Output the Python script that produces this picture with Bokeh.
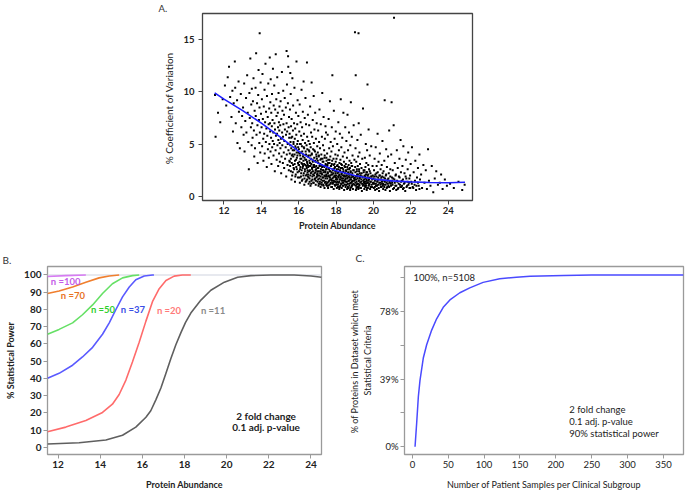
from bokeh.plotting import figure
from bokeh.layouts import column, row
from bokeh.models import Spacer, FixedTicker, Range1d
from bokeh.embed import file_html
from bokeh.resources import INLINE
from bokeh.core.properties import value

FONT = "Lato"

# ---------------- Panel A data (estimated points) ----------------
cv_points = [
    (11.52, 9.7), (11.55, 5.7), (11.68, 8.0), (11.8, 7.1), (11.93, 9.3),
    (12.05, 10.6), (12.12, 8.7), (12.2, 11.4), (12.27, 12.4), (12.33, 9.5), (12.4, 7.6), (12.45, 10.1), (12.48, 6.2),
    (12.52, 8.9), (12.58, 12.9), (12.6, 10.4), (12.63, 7.0), (12.7, 9.2), (12.72, 5.1), (12.78, 11.0), (12.8, 8.1),
    (12.85, 4.6), (12.9, 9.8), (12.93, 6.6), (12.97, 7.7),
    (13.02, 8.5), (13.05, 5.9), (13.08, 10.8), (13.1, 4.3), (13.14, 7.2), (13.18, 9.4), (13.2, 6.1), (13.24, 11.6),
    (13.27, 8.0), (13.3, 5.2), (13.33, 2.6), (13.36, 9.9), (13.38, 7.5), (13.41, 13.2), (13.44, 6.6), (13.46, 8.8),
    (13.48, 4.9), (13.49, 10.3),
    (13.51, 7.0), (13.53, 5.6), (13.55, 9.1), (13.58, 11.3), (13.6, 6.3), (13.62, 3.8), (13.64, 8.2), (13.66, 4.6),
    (13.69, 10.4), (13.7, 7.7), (13.72, 13.7), (13.74, 5.9), (13.77, 8.9), (13.79, 6.8), (13.8, 3.2), (13.83, 9.7),
    (13.85, 12.1), (13.87, 7.3), (13.89, 5.1), (13.9, 8.5), (13.92, 6.1), (13.94, 4.2), (13.96, 10.9), (13.98, 7.9),
    (13.91, 15.6),
    (14.01, 6.6), (14.03, 9.3), (14.04, 4.8), (14.06, 11.7), (14.08, 7.4), (14.1, 5.5), (14.11, 3.4), (14.13, 8.6),
    (14.15, 6.0), (14.17, 10.2), (14.18, 4.1), (14.2, 7.1), (14.22, 12.7), (14.24, 5.2), (14.25, 8.1), (14.27, 6.5),
    (14.29, 2.8), (14.3, 9.6), (14.32, 5.8), (14.34, 7.6), (14.35, 4.5), (14.37, 10.8), (14.39, 6.9), (14.4, 3.7),
    (14.42, 8.4), (14.43, 5.0), (14.45, 13.3), (14.46, 7.0), (14.47, 6.2), (14.48, 9.0), (14.49, 4.3), (14.5, 11.2),
    (14.52, 5.6), (14.53, 8.0), (14.54, 3.1), (14.56, 6.7), (14.57, 9.8), (14.58, 4.7), (14.6, 7.3), (14.61, 5.3),
    (14.62, 12.2), (14.64, 6.1), (14.65, 3.9), (14.66, 8.7), (14.68, 5.0), (14.69, 10.6), (14.7, 7.0), (14.72, 2.4),
    (14.73, 6.4), (14.74, 8.3), (14.76, 4.4), (14.77, 13.6), (14.78, 5.8), (14.8, 9.3), (14.81, 7.7), (14.82, 3.5),
    (14.84, 6.0), (14.85, 11.4), (14.86, 4.9), (14.88, 8.0), (14.89, 6.6), (14.9, 2.9), (14.91, 5.4), (14.92, 9.9),
    (14.94, 7.1), (14.95, 4.1), (14.96, 6.3), (14.97, 8.6), (14.98, 5.1), (14.99, 3.3),
    (15.01, 6.8), (15.02, 4.6), (15.03, 9.1), (15.05, 5.5), (15.06, 2.2), (15.07, 7.4), (15.08, 3.8), (15.1, 11.9),
    (15.11, 6.1), (15.12, 4.9), (15.13, 8.2), (15.15, 3.2), (15.16, 5.7), (15.17, 10.1), (15.18, 6.9), (15.2, 4.2),
    (15.21, 7.8), (15.22, 2.7), (15.23, 5.3), (15.25, 9.4), (15.26, 6.4), (15.27, 3.6), (15.35, 13.9), (15.3, 4.7),
    (15.31, 8.5), (15.32, 5.9), (15.33, 1.9), (15.35, 7.0), (15.36, 4.0), (15.37, 10.7), (15.38, 6.2), (15.4, 3.0),
    (15.41, 5.0), (15.42, 8.9), (15.43, 13.4), (15.45, 4.4), (15.46, 6.6), (15.47, 2.5), (15.48, 7.6), (15.49, 5.6),
    (15.5, 3.4), (15.44, 12.4),
    (15.51, 6.0), (15.52, 4.1), (15.53, 8.3), (15.54, 2.9), (15.56, 5.2), (15.57, 9.8), (15.58, 3.6), (15.59, 6.7),
    (15.6, 4.6), (15.61, 1.6), (15.62, 7.4), (15.63, 3.2), (15.65, 5.7), (15.66, 11.3), (15.67, 4.0), (15.68, 2.3),
    (15.69, 6.3), (15.7, 8.7), (15.71, 3.8), (15.72, 5.0), (15.73, 2.7), (15.75, 7.0), (15.76, 4.4), (15.77, 10.4),
    (15.78, 3.1), (15.79, 5.5), (15.8, 1.4), (15.81, 6.5), (15.82, 4.8), (15.84, 2.1), (15.85, 8.0), (15.86, 3.5),
    (15.87, 5.9), (15.88, 12.9), (15.89, 4.2), (15.9, 2.6), (15.92, 6.9), (15.93, 3.9), (15.94, 9.2), (15.95, 5.3),
    (15.96, 1.8), (15.97, 4.7), (15.98, 7.7), (15.99, 3.0), (15.55, 11.8),
    (16.01, 4.5), (16.02, 2.4), (16.03, 6.2), (16.04, 3.3), (16.05, 8.8), (16.06, 1.3), (16.07, 5.0), (16.08, 3.9),
    (16.09, 2.8), (16.1, 7.1), (16.11, 4.2), (16.12, 1.9), (16.13, 5.8), (16.14, 3.6), (16.15, 10.2), (16.16, 2.5),
    (16.17, 4.8), (16.18, 6.6), (16.19, 3.1), (16.2, 1.6), (16.21, 5.4), (16.22, 8.1), (16.23, 2.9), (16.24, 4.0),
    (16.25, 3.4), (16.26, 11.0), (16.27, 2.2), (16.28, 6.0), (16.29, 4.6), (16.3, 1.1), (16.31, 3.7), (16.32, 7.5),
    (16.33, 2.6), (16.34, 5.1), (16.35, 3.0), (16.36, 9.4), (16.37, 4.3), (16.38, 2.0), (16.39, 6.9), (16.4, 3.5),
    (16.41, 1.5), (16.42, 4.9), (16.43, 2.7), (16.44, 12.8), (16.45, 5.7), (16.46, 3.2), (16.47, 2.3), (16.49, 7.8),
    (16.5, 3.8), (16.51, 2.1), (16.52, 5.3), (16.53, 1.2), (16.54, 4.4), (16.55, 2.9), (16.56, 6.8), (16.57, 3.4),
    (16.58, 1.7), (16.59, 5.0), (16.6, 2.5), (16.61, 8.6), (16.62, 3.9), (16.63, 1.0), (16.64, 4.7), (16.65, 2.2),
    (16.66, 6.1), (16.67, 3.1), (16.68, 1.5), (16.69, 10.9), (16.7, 4.1), (16.71, 2.7), (16.72, 5.7), (16.73, 1.9),
    (16.74, 3.5), (16.75, 7.3), (16.76, 2.4), (16.77, 4.5), (16.78, 1.3), (16.79, 3.0), (16.8, 9.6), (16.81, 5.1),
    (16.82, 2.0), (16.83, 3.7), (16.84, 6.4), (16.85, 1.6), (16.86, 2.8), (16.87, 4.3), (16.88, 8.0), (16.89, 2.3),
    (16.9, 3.3), (16.91, 1.1), (16.92, 5.5), (16.93, 2.6), (16.94, 4.0), (16.95, 1.8), (16.96, 7.0), (16.97, 3.6),
    (16.98, 2.1), (16.99, 4.8),
    (17.0, 2.7), (17.01, 1.4), (17.02, 4.2), (17.03, 2.0), (17.04, 6.3), (17.05, 3.2), (17.06, 1.0), (17.07, 3.8),
    (17.08, 2.4), (17.09, 5.2), (17.1, 1.7), (17.11, 8.3), (17.12, 2.9), (17.13, 1.2), (17.14, 4.6), (17.15, 2.2),
    (17.16, 3.5), (17.17, 0.9), (17.18, 6.9), (17.19, 2.6), (17.2, 1.6), (17.21, 4.0), (17.22, 3.0), (17.23, 1.3),
    (17.24, 5.7), (17.25, 2.1), (17.26, 9.9), (17.27, 3.6), (17.28, 1.8), (17.29, 2.5), (17.3, 4.9), (17.31, 1.1),
    (17.32, 3.3), (17.33, 7.6), (17.34, 2.3), (17.35, 1.5), (17.36, 4.4), (17.37, 2.8), (17.38, 0.8), (17.39, 3.9),
    (17.4, 5.5), (17.41, 1.9), (17.42, 2.4), (17.43, 6.7), (17.44, 3.1), (17.45, 1.4), (17.46, 6.1), (17.47, 2.0),
    (17.48, 3.7), (17.49, 1.2),
    (17.5, 2.6), (17.51, 1.0), (17.52, 4.1), (17.53, 1.7), (17.54, 3.0), (17.55, 5.9), (17.56, 2.2), (17.57, 0.8),
    (17.58, 3.5), (17.59, 1.4), (17.6, 7.4), (17.61, 2.7), (17.62, 1.9), (17.63, 4.6), (17.64, 1.1), (17.65, 3.2),
    (17.66, 2.4), (17.67, 9.1), (17.68, 1.6), (17.69, 3.8), (17.7, 2.0), (17.71, 5.2), (17.72, 1.3), (17.73, 2.9),
    (17.74, 0.9), (17.75, 4.3), (17.76, 2.3), (17.77, 6.6), (17.78, 1.5), (17.79, 3.4), (17.8, 11.6), (17.81, 2.1),
    (17.82, 1.2), (17.83, 4.8), (17.84, 2.6), (17.85, 1.8), (17.86, 3.6), (17.87, 0.7), (17.88, 8.2), (17.89, 2.5),
    (17.9, 1.4), (17.91, 3.1), (17.92, 5.5), (17.93, 1.9), (17.94, 2.8), (17.95, 1.0), (17.96, 4.0), (17.97, 2.2),
    (17.98, 6.2), (17.99, 1.6),
    (18.0, 2.4), (18.01, 1.1), (18.02, 3.6), (18.03, 1.7), (18.04, 0.8), (18.05, 2.9), (18.06, 5.0), (18.07, 1.4),
    (18.08, 2.2), (18.09, 3.9), (18.1, 0.9), (18.11, 1.9), (18.12, 7.1), (18.13, 2.6), (18.14, 1.3), (18.15, 4.4),
    (18.16, 2.0), (18.17, 0.7), (18.18, 3.2), (18.19, 1.6), (18.2, 6.0), (18.21, 2.4), (18.22, 1.0), (18.23, 3.5),
    (18.24, 1.8), (18.25, 9.3), (18.26, 2.7), (18.27, 1.2), (18.28, 4.7), (18.29, 2.1), (18.3, 0.8), (18.31, 3.0),
    (18.32, 1.5), (18.33, 5.6), (18.34, 2.3), (18.35, 1.0), (18.36, 3.8), (18.37, 1.7), (18.38, 2.6), (18.39, 8.0),
    (18.4, 1.3), (18.42, 3.3), (18.43, 0.6), (18.44, 2.0), (18.45, 4.2), (18.46, 1.5), (18.48, 2.8), (18.49, 6.6),
    (18.5, 1.9), (18.51, 0.9), (18.52, 3.1), (18.53, 1.4), (18.54, 2.4), (18.55, 5.3), (18.56, 1.1), (18.57, 2.0),
    (18.58, 3.7), (18.59, 0.7), (18.6, 1.7), (18.61, 7.8), (18.62, 2.6), (18.63, 1.2), (18.64, 4.4), (18.65, 2.2),
    (18.66, 0.8), (18.67, 3.0), (18.68, 1.5), (18.69, 6.1), (18.7, 2.1), (18.71, 1.0), (18.72, 3.4), (18.73, 1.8),
    (18.74, 2.7), (18.75, 0.6), (18.76, 4.9), (18.77, 1.3), (18.78, 2.3), (18.79, 9.0), (18.8, 1.6), (18.81, 3.2),
    (18.82, 0.9), (18.83, 2.0), (18.84, 5.7), (18.85, 1.4), (18.86, 2.9), (18.87, 1.1), (18.88, 3.9), (18.89, 1.9),
    (18.9, 0.7), (18.92, 2.5), (18.94, 6.8), (18.96, 1.5), (18.98, 3.5),
    (19.0, 1.8), (19.01, 15.7), (19.02, 2.8), (19.03, 1.3), (19.04, 4.6), (19.05, 11.6), (19.06, 0.6), (19.07, 1.6),
    (19.08, 3.3), (19.09, 0.8), (19.1, 1.1), (19.11, 2.4), (19.12, 2.1), (19.13, 0.9), (19.14, 5.4), (19.15, 1.9),
    (19.16, 2.9), (19.17, 1.2), (19.18, 3.8), (19.19, 0.7), (19.2, 15.6), (19.21, 7.0), (19.22, 1.5), (19.23, 2.6),
    (19.24, 1.0), (19.25, 4.2), (19.26, 1.7), (19.27, 2.2), (19.28, 3.1), (19.29, 0.8), (19.3, 2.0), (19.32, 5.9),
    (19.34, 1.4), (19.36, 2.7), (19.38, 0.5), (19.4, 3.6), (19.42, 1.8), (19.44, 8.4), (19.46, 1.1), (19.48, 2.3),
    (19.5, 1.6), (19.51, 0.7), (19.52, 2.5), (19.53, 1.2), (19.54, 3.7), (19.55, 1.9), (19.56, 0.9), (19.57, 2.8),
    (19.58, 1.4), (19.59, 5.0), (19.6, 2.1), (19.61, 1.0), (19.62, 3.2), (19.63, 1.6), (19.64, 0.6), (19.65, 2.3),
    (19.66, 4.4), (19.67, 1.3), (19.68, 10.7), (19.69, 2.0), (19.7, 0.8), (19.72, 3.0), (19.73, 1.5), (19.74, 6.4),
    (19.76, 2.6), (19.77, 1.1), (19.78, 1.8), (19.8, 3.9), (19.82, 0.7), (19.84, 2.2), (19.86, 1.4), (19.88, 4.8),
    (19.9, 1.9), (19.92, 0.9), (19.95, 2.9), (19.98, 1.3),
    (20.0, 1.7), (20.02, 0.8), (20.03, 2.5), (20.05, 1.2), (20.06, 3.6), (20.08, 1.5), (20.09, 0.6), (20.1, 2.1),
    (20.12, 4.7), (20.13, 1.0), (20.15, 1.9), (20.17, 2.9), (20.18, 0.7), (20.2, 1.4), (20.22, 6.0), (20.23, 2.3),
    (20.25, 1.1), (20.27, 3.3), (20.28, 1.6), (20.3, 0.5), (20.32, 2.0), (20.34, 4.1), (20.36, 1.3), (20.38, 2.6),
    (20.4, 0.9), (20.42, 1.8), (20.44, 3.0), (20.46, 1.2), (20.48, 5.3), (20.49, 2.2),
    (20.5, 1.5), (20.52, 0.7), (20.54, 2.4), (20.56, 1.1), (20.58, 3.4), (20.6, 9.2), (20.62, 1.7), (20.64, 0.6),
    (20.66, 2.0), (20.68, 4.5), (20.7, 1.3), (20.72, 2.8), (20.74, 0.9), (20.76, 1.6), (20.78, 3.8), (20.8, 1.0),
    (20.82, 2.2), (20.84, 6.3), (20.86, 1.4), (20.88, 0.5), (20.9, 2.6), (20.92, 1.2), (20.95, 4.0), (20.97, 9.0),
    (20.99, 1.8),
    (21.0, 1.3), (21.03, 2.5), (21.05, 0.7), (21.08, 6.8), (21.1, 17.1), (21.12, 1.6), (21.14, 3.2), (21.17, 1.0),
    (21.2, 2.1), (21.22, 0.6), (21.25, 4.4), (21.28, 1.4), (21.3, 2.7), (21.33, 0.8), (21.36, 1.9), (21.39, 3.6),
    (21.42, 1.1), (21.45, 5.4), (21.47, 2.3), (21.49, 0.9),
    (21.52, 1.5), (21.55, 2.9), (21.58, 0.7), (21.6, 4.8), (21.63, 1.2), (21.66, 2.2), (21.7, 0.5), (21.73, 3.5),
    (21.76, 1.7), (21.8, 1.0), (21.83, 2.6), (21.86, 4.2), (21.9, 1.3), (21.93, 0.8), (21.96, 2.0), (21.99, 3.1),
    (22.02, 1.4), (22.06, 4.7), (22.1, 0.9), (22.15, 2.3), (22.2, 1.1), (22.24, 3.4), (22.28, 0.6), (22.33, 1.8),
    (22.38, 2.7), (22.42, 1.0), (22.46, 4.0), (22.49, 1.6),
    (22.55, 2.1), (22.6, 0.8), (22.67, 3.0), (22.73, 1.3), (22.8, 2.5), (22.86, 0.7), (22.92, 4.5), (22.97, 1.5),
    (23.05, 1.0), (23.12, 2.9), (23.2, 0.4), (23.28, 1.7), (23.36, 2.4), (23.45, 1.1),
    (23.55, 1.3), (23.62, 2.1), (23.7, 0.7), (23.82, 1.6), (23.93, 1.0),
    (24.1, 1.2), (24.3, 0.8), (24.55, 1.4), (24.75, 0.6), (24.88, 1.1),
]
# the densest part of the cloud, read separately
cv_core = [
    (15.52, 3.3), (15.55, 4.9), (15.58, 2.4), (15.6, 5.6), (15.63, 3.9), (15.65, 2.0), (15.68, 4.4), (15.7, 3.0),
    (15.72, 5.2), (15.75, 2.6), (15.78, 4.0), (15.8, 3.4), (15.82, 1.9), (15.85, 4.6), (15.87, 2.8), (15.9, 3.7),
    (15.92, 5.0), (15.94, 2.3), (15.96, 3.2), (15.98, 4.2),
    (16.02, 3.0), (16.04, 4.1), (16.05, 1.8), (16.07, 2.6), (16.09, 3.6), (16.11, 5.0), (16.13, 2.2), (16.15, 3.2),
    (16.17, 1.5), (16.19, 4.3), (16.21, 2.7), (16.23, 3.8), (16.25, 2.0), (16.27, 4.7), (16.29, 3.1), (16.31, 1.7),
    (16.33, 2.4), (16.35, 3.5), (16.37, 1.4), (16.39, 4.0), (16.41, 2.9), (16.43, 2.1), (16.44, 3.3), (16.45, 1.6),
    (16.46, 4.5), (16.47, 2.5), (16.48, 3.0), (16.49, 1.9),
    (16.51, 2.8), (16.52, 3.9), (16.53, 1.8), (16.55, 2.4), (16.57, 4.3), (16.58, 1.4), (16.6, 3.2), (16.62, 2.0),
    (16.63, 2.9), (16.65, 3.6), (16.67, 1.2), (16.68, 2.3), (16.7, 4.0), (16.72, 2.6), (16.73, 1.6), (16.75, 3.3),
    (16.77, 2.1), (16.78, 2.8), (16.8, 1.3), (16.82, 3.0), (16.83, 4.4), (16.85, 2.2), (16.87, 1.7), (16.88, 3.4),
    (16.9, 2.5), (16.92, 1.5), (16.94, 2.9), (16.95, 3.8), (16.97, 1.9), (16.99, 2.4),
    (17.01, 2.2), (17.02, 3.4), (17.04, 1.6), (17.05, 2.7), (17.07, 1.2), (17.08, 3.9), (17.1, 2.0), (17.12, 2.9),
    (17.13, 1.4), (17.15, 3.1), (17.17, 1.9), (17.18, 2.4), (17.2, 3.6), (17.22, 1.1), (17.23, 2.2), (17.25, 2.8),
    (17.27, 1.5), (17.28, 3.3), (17.3, 1.8), (17.32, 2.5), (17.33, 1.0), (17.35, 2.9), (17.37, 2.0), (17.38, 3.7),
    (17.4, 1.3), (17.42, 2.3), (17.43, 1.7), (17.45, 3.0), (17.46, 2.6), (17.47, 1.1), (17.48, 2.1), (17.49, 3.4),
    (17.51, 1.9), (17.52, 2.8), (17.54, 1.3), (17.55, 2.3), (17.57, 3.2), (17.58, 1.0), (17.6, 2.0), (17.62, 2.6),
    (17.63, 1.5), (17.65, 3.5), (17.67, 1.8), (17.68, 2.4), (17.7, 1.2), (17.72, 2.9), (17.73, 1.6), (17.75, 2.1),
    (17.77, 3.1), (17.78, 0.9), (17.8, 1.7), (17.82, 2.5), (17.83, 1.3), (17.85, 2.2), (17.87, 3.0), (17.88, 1.5),
    (17.9, 1.9), (17.92, 2.7), (17.93, 1.1), (17.95, 2.0), (17.96, 2.4), (17.97, 1.4), (17.98, 3.3), (17.99, 1.8),
    (18.01, 2.0), (18.03, 1.3), (18.04, 2.6), (18.06, 1.6), (18.08, 3.0), (18.1, 1.1), (18.12, 2.3), (18.13, 1.8),
    (18.15, 2.8), (18.17, 1.4), (18.18, 2.1), (18.2, 0.9), (18.22, 2.5), (18.23, 1.6), (18.25, 1.9), (18.27, 3.1),
    (18.28, 1.2), (18.3, 2.2), (18.32, 1.7), (18.33, 2.7), (18.35, 1.3), (18.37, 2.0), (18.38, 1.0), (18.4, 2.4),
    (18.42, 1.5), (18.43, 1.9), (18.45, 2.9), (18.46, 1.1), (18.48, 2.2), (18.49, 1.6),
    (18.51, 1.7), (18.53, 2.5), (18.54, 1.1), (18.56, 2.0), (18.58, 1.4), (18.6, 2.8), (18.62, 1.8), (18.63, 0.9),
    (18.65, 2.3), (18.67, 1.5), (18.68, 1.9), (18.7, 2.6), (18.72, 1.2), (18.73, 2.1), (18.75, 1.6), (18.77, 0.8),
    (18.78, 2.4), (18.8, 1.3), (18.82, 1.8), (18.83, 2.9), (18.85, 1.0), (18.87, 2.2), (18.88, 1.5), (18.9, 1.9),
    (18.92, 1.2), (18.94, 2.5), (18.96, 1.7), (18.98, 1.1),
    (19.01, 1.6), (19.03, 2.3), (19.05, 1.0), (19.07, 1.9), (19.09, 1.4), (19.11, 2.6), (19.13, 1.2), (19.15, 1.7),
    (19.17, 2.1), (19.19, 0.9), (19.21, 1.5), (19.23, 2.4), (19.25, 1.1), (19.27, 1.8), (19.29, 1.3), (19.31, 2.0),
    (19.33, 0.8), (19.35, 1.6), (19.37, 2.2), (19.39, 1.2), (19.41, 1.9), (19.43, 1.0), (19.45, 1.5), (19.47, 2.5),
    (19.49, 1.3),
    (19.51, 1.4), (19.53, 2.0), (19.55, 1.0), (19.57, 1.7), (19.6, 1.2), (19.62, 2.3), (19.64, 1.5), (19.66, 0.8),
    (19.68, 1.8), (19.7, 1.3), (19.72, 2.1), (19.74, 1.0), (19.76, 1.6), (19.78, 1.2), (19.8, 2.4), (19.83, 1.4),
    (19.85, 0.9), (19.88, 1.9), (19.9, 1.1), (19.93, 1.6), (19.96, 2.0), (19.98, 1.2),
    (20.01, 1.3), (20.04, 1.9), (20.07, 0.9), (20.1, 1.6), (20.13, 1.2), (20.16, 2.2), (20.19, 1.0), (20.22, 1.5),
    (20.25, 1.8), (20.28, 0.8), (20.31, 1.3), (20.34, 2.0), (20.37, 1.1), (20.4, 1.6), (20.43, 0.9), (20.45, 1.4),
    (20.47, 1.9), (20.49, 1.0),
    (20.51, 1.2), (20.55, 1.8), (20.58, 0.9), (20.61, 1.4), (20.65, 1.1), (20.68, 2.1), (20.71, 0.8), (20.74, 1.5),
    (20.77, 1.2), (20.8, 1.7), (20.84, 0.9), (20.87, 1.3), (20.9, 1.9), (20.94, 1.0), (20.98, 1.5),
    (21.02, 1.1), (21.06, 1.7), (21.1, 0.8), (21.14, 1.3), (21.18, 2.0), (21.22, 1.0), (21.26, 1.5), (21.3, 0.7),
    (21.35, 1.2), (21.4, 1.8), (21.44, 0.9), (21.48, 1.4),
    (21.53, 1.0), (21.58, 1.6), (21.62, 0.8), (21.67, 1.3), (21.72, 1.9), (21.77, 0.9), (21.82, 1.4), (21.87, 1.1),
    (21.92, 1.7), (21.97, 0.8),
    (22.05, 1.2), (22.13, 0.8), (22.22, 1.5), (22.3, 1.0), (22.38, 1.3), (22.46, 0.7),
]
cv_x = [p[0] for p in cv_points + cv_core]
cv_y = [p[1] for p in cv_points + cv_core]

# loess trend line
trend_x = [11.5, 12, 13, 14, 15, 16, 17, 18, 19, 20, 21, 22, 23, 24, 24.9]
trend_y = [9.9, 9.3, 8.2, 7.0, 5.7, 4.3, 3.2, 2.45, 2.0, 1.65, 1.48, 1.38, 1.32, 1.3, 1.35]

# ---------------- Panel B data ----------------
n11_x = [11.5, 13.0, 14.27, 15.06, 15.69, 16.17, 16.4, 16.64, 16.88, 17.12, 17.35, 17.59, 17.83, 18.05, 18.3,
         18.78, 19.25, 19.89, 20.52, 21.15, 22.1, 23.2, 24.0, 24.5]
n11_y = [1.9, 2.6, 4.2, 7.0, 11.7, 17.4, 21.2, 27.5, 34.4, 43.0, 51.4, 59.5, 66.5, 72.5, 77.9,
         85.4, 91.1, 95.8, 98.7, 99.6, 100, 100, 99.4, 98.7]
n20_x = [11.5, 12.37, 13.32, 14.11, 14.58, 14.9, 15.22, 15.53, 15.85, 16.17, 16.48, 16.8, 17.12, 17.51, 17.9, 18.3]
n20_y = [9.0, 11.7, 15.5, 20.2, 25.0, 30.6, 39.0, 49.5, 60.9, 73.2, 84.5, 92.0, 96.8, 99.3, 100, 100]
n37_x = [11.5, 12.05, 12.69, 13.16, 13.64, 14.11, 14.43, 14.74, 15.06, 15.38, 15.69, 16.09, 16.48, 16.55]
n37_y = [40.1, 42.9, 47.6, 52.4, 58.0, 65.6, 72.2, 79.8, 87.3, 93.0, 97.2, 99.4, 100, 100]
n50_x = [11.5, 12.05, 12.69, 13.16, 13.64, 14.11, 14.58, 15.06, 15.53, 15.85]
n50_y = [65.6, 68.4, 72.2, 76.9, 82.6, 89.2, 94.9, 98.3, 99.6, 100]
n70_x = [11.5, 12.05, 12.69, 13.32, 13.95, 14.43, 14.9]
n70_y = [89.2, 90.7, 93.0, 95.8, 98.3, 99.4, 100]
n100_x = [11.5, 12.37, 13.32]
n100_y = [99.1, 99.6, 100]
full_x = [11.5, 24.5]
full_y = [100, 100]

b_labels = ["n =100", "n =70", "n =50", "n =37", "n =20", "n =11"]
b_label_x = [11.66, 12.13, 13.56, 14.98, 16.69, 18.78]
b_label_y = [96.4, 87.9, 79.8, 79.8, 79.4, 79.6]
b_colors = ["#d77cf2", "#f07f2e", "#66e066", "#5a5aff", "#ff6b6b", "#5f5f5f"]
b_label_colors = ["#c45be8", "#e8731f", "#2fcf2f", "#3a4fe6", "#ff7a7a", "#8a8a8a"]

# ---------------- Panel C data ----------------
c_x = [3.7, 6, 8.3, 10.6, 15.3, 19.9, 26.9, 33.8, 43, 52.3, 66.2, 80, 98.6, 121.8, 145, 164, 211, 250, 300, 378]
c_y = [0, 711, 1480, 1962, 2635, 3019, 3452, 3788, 4125, 4346, 4558, 4702, 4865, 4971, 5019, 5045, 5070, 5080, 5085, 5085]
c_ticks = [0, 1000, 2000, 3000, 4000, 5000]
c_tick_labels = {0: "0%", 1000: "", 2000: "39%", 3000: "", 4000: "78%", 5000: ""}


def style(p, frame_color, bold_ticks, tick_size, label_size, bold_labels):
    p.outline_line_color = frame_color
    p.outline_line_width = 1.3
    p.xgrid.visible = False
    p.ygrid.visible = False
    p.background_fill_color = "white"
    p.border_fill_color = "white"
    for ax in (p.xaxis[0], p.yaxis[0]):
        ax.axis_line_color = None
        ax.major_tick_line_color = frame_color
        ax.major_tick_out = 4
        ax.major_tick_in = 0
        ax.minor_tick_line_color = None
        ax.major_label_text_font = FONT
        ax.major_label_text_font_size = tick_size
        ax.major_label_text_font_style = "bold" if bold_ticks else "normal"
        ax.major_label_text_color = "#222222"
        ax.axis_label_text_font = FONT
        ax.axis_label_text_font_size = label_size
        ax.axis_label_text_font_style = "bold" if bold_labels else "normal"
        ax.axis_label_text_color = "#222222"
        ax.major_label_standoff = 2
        ax.axis_label_standoff = 3


def panel_title(p, txt, offset, standoff, size="10px"):
    p.title.text = txt
    p.title.align = "left"
    p.title.offset = offset
    p.title.standoff = standoff
    p.title.text_font = FONT
    p.title.text_font_size = size
    p.title.text_font_style = "normal"
    p.title.text_color = "#333333"


# ---------------- Panel A figure (page x 150..490, y 0..235) ----------------
pA = figure(width=340, height=235, x_range=Range1d(10.85, 25.3), y_range=Range1d(-0.4, 17.5),
            output_backend="svg", toolbar_location=None,
            min_border_left=52, min_border_right=18, min_border_top=11, min_border_bottom=35)
style(pA, "#444444", True, "9.5px", "9px", False)
panel_title(pA, "A.", -44, 0, "9.5px")
pA.xaxis[0].axis_label_text_font_style = "bold"
pA.yaxis[0].axis_label_text_font_size = "10px"
pA.xaxis[0].ticker = FixedTicker(ticks=[12, 14, 16, 18, 20, 22, 24])
pA.yaxis[0].ticker = FixedTicker(ticks=[0, 5, 10, 15])
pA.yaxis[0].major_label_standoff = 4
pA.yaxis[0].axis_label_standoff = 5
pA.xaxis[0].axis_label = "Protein Abundance"
pA.yaxis[0].axis_label = "%  Coefficient of Variation"
pA.scatter(cv_x, cv_y, size=2.0, marker="square", color="black", line_color=None)
pA.line(trend_x, trend_y, line_color="#1f1fff", line_width=1.6)

# ---------------- Panel B figure (page x 0..335, y 235..492) ----------------
pB = figure(width=335, height=257, x_range=Range1d(11.5, 24.5), y_range=Range1d(-4.2, 104.9),
            output_backend="svg", toolbar_location=None,
            min_border_left=47, min_border_right=14, min_border_top=29, min_border_bottom=35)
style(pB, "#9a9a9a", True, "10px", "9px", True)
panel_title(pB, "B.", -45, 2)
pB.xaxis[0].ticker = FixedTicker(ticks=[12, 14, 16, 18, 20, 22, 24])
pB.yaxis[0].ticker = FixedTicker(ticks=list(range(0, 101, 10)))
pB.xaxis[0].axis_label = "Protein Abundance"
pB.yaxis[0].axis_label = "% Statistical Power"
pB.xaxis[0].axis_label_standoff = 8
pB.yaxis[0].axis_label_standoff = 5
pB.line(full_x, full_y, line_color="#dfe2ea", line_width=1.4)
series = [(n100_x, n100_y), (n70_x, n70_y), (n50_x, n50_y), (n37_x, n37_y), (n20_x, n20_y), (n11_x, n11_y)]
for (xs, ys), col in zip(series, b_colors):
    pB.line(xs, ys, line_color=col, line_width=1.6)
pB.text(x=b_label_x, y=b_label_y, text=b_labels, text_color=b_label_colors,
        text_font=value(FONT), text_font_size="9.5px", text_font_style="bold", text_baseline="middle")
pB.text(x=[21.87, 21.87], y=[18.3, 11.5], text=["2 fold change", "0.1 adj. p-value"],
        text_font=value(FONT), text_font_size="10px", text_font_style="bold", text_color="#222222",
        text_align="center", text_baseline="middle")

# ---------------- Panel C figure (page x 335..685, y 235..492) ----------------
pC = figure(width=350, height=257, x_range=Range1d(-11, 378), y_range=Range1d(-231, 5335),
            output_backend="svg", toolbar_location=None,
            min_border_left=69, min_border_right=2, min_border_top=31, min_border_bottom=33)
style(pC, "#9a9a9a", False, "9.5px", "9px", False)
panel_title(pC, "C.", -49, 5)
pC.xaxis[0].ticker = FixedTicker(ticks=[0, 50, 100, 150, 200, 250, 300, 350])
pC.yaxis[0].ticker = FixedTicker(ticks=c_ticks)
pC.yaxis[0].major_label_overrides = c_tick_labels
pC.xaxis[0].axis_label = "Number of Patient Samples per Clinical Subgroup"
pC.yaxis[0].axis_label = "% of Proteins in Dataset  which meet\nStatistical Criteria"
pC.xaxis[0].axis_label_standoff = 8
pC.yaxis[0].axis_label_standoff = 4
pC.line(c_x, c_y, line_color="#4a4aff", line_width=1.5)
pC.text(x=[1.4], y=[5008], text=["100%, n=5108"], text_font=value(FONT), text_font_size="9.5px",
        text_color="#222222", text_baseline="middle")
pC.text(x=[218.7, 218.7, 218.7], y=[1096, 750, 404],
        text=["2 fold change", "0.1 adj. p-value", "90% statistical power"],
        text_font=value(FONT), text_font_size="9.5px", text_color="#222222", text_baseline="middle")

layout = column(row(Spacer(width=150, height=235), pA), row(pB, pC))
open("out.html", "w").write(file_html(layout, INLINE))
